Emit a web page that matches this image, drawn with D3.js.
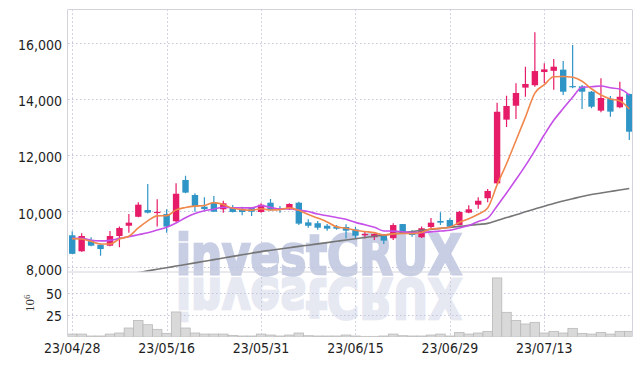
<!DOCTYPE html>
<html>
<head>
<meta charset="utf-8">
<script src="https://cdnjs.cloudflare.com/ajax/libs/d3/7.8.5/d3.min.js"></script>
<style>
  body { margin: 0; background: #fff; }
  svg { display: block; }
  .axis text { font-family: "Liberation Sans Narrow", "DejaVu Sans Condensed", sans-serif; font-size: 14px; fill: #1e1e1e; }
</style>
</head>
<body>
<div id="chart"></div>
<script>
// trading days shown on the chart
const dates = [
  "23/04/28","23/05/02","23/05/03","23/05/04","23/05/08","23/05/09","23/05/10","23/05/11","23/05/12","23/05/15",
  "23/05/16","23/05/17","23/05/18","23/05/19","23/05/22","23/05/23","23/05/24","23/05/25","23/05/26","23/05/30",
  "23/05/31","23/06/01","23/06/02","23/06/05","23/06/07","23/06/08","23/06/09","23/06/12","23/06/13","23/06/14",
  "23/06/15","23/06/16","23/06/19","23/06/20","23/06/21","23/06/22","23/06/23","23/06/26","23/06/27","23/06/28",
  "23/06/29","23/06/30","23/07/03","23/07/04","23/07/05","23/07/06","23/07/07","23/07/10","23/07/11","23/07/12",
  "23/07/13","23/07/14","23/07/17","23/07/18","23/07/19","23/07/20","23/07/21","23/07/24","23/07/25","23/07/26"
];
const tickDates = ["23/04/28","23/05/16","23/05/31","23/06/15","23/06/29","23/07/13"];
const priceTicks = [8000, 10000, 12000, 14000, 16000];
const volumeTicks = [25, 50];

const open = [
  9140, 8570, 8970, 8800, 8770, 9115, 9480, 9800, 10040, 9950,
  9900, 9640, 11110, 10575, 10160, 10300, 10065, 10135, 10065, 10110,
  9970, 10300, 10100, 10066, 10300, 9600, 9570, 9480, 9445, 9435,
  9350, 9150, 9070, 9150, 9035, 9540, 9290, 9070, 9435, 9650,
  9685, 9505, 9945, 10230, 10460, 10990, 13260, 13755, 14400, 14485,
  14955, 15000, 15040, 14455, 14445, 14255, 13580, 14005, 13700, 14175
];
const high = [
  9280, 9210, 9070, 8830, 9290, 9450, 9900, 10315, 10970, 10420,
  10065, 10990, 11260, 10635, 10495, 10540, 10370, 10220, 10160, 10150,
  10280, 10430, 10185, 10280, 10335, 9710, 9650, 9540, 9505, 9530,
  9435, 9270, 9200, 9185, 9565, 9545, 9330, 9450, 9755, 9960,
  9745, 10005, 10210, 10495, 10790, 13865, 14110, 14555, 15145, 16370,
  15265, 15420, 15350, 15920, 14495, 14280, 14730, 14100, 14610, 14180
];
const low = [
  8470, 8550, 8750, 8410, 8750, 8710, 9230, 9780, 9920, 9450,
  9230, 9610, 10635, 9980, 10040, 9975, 9945, 9950, 9850, 9830,
  9945, 10005, 9945, 10040, 9505, 9410, 9340, 9305, 9340, 9030,
  9030, 9030, 8970, 8830, 8970, 9190, 9090, 9040, 9400, 9505,
  9440, 9500, 9925, 10085, 10315, 10980, 13000, 13285, 14075, 14435,
  14555, 14320, 14135, 14375, 13640, 13665, 13520, 13365, 13665, 12535
];
const close = [
  8480, 9115, 8770, 8650, 9115, 9400, 9590, 10230, 9945, 9975,
  9450, 10620, 10660, 10185, 10075, 9980, 10280, 9970, 9970, 9980,
  10230, 10040, 10065, 10255, 9555, 9480, 9410, 9375, 9375, 9305,
  9125, 9185, 9185, 8950, 9505, 9210, 9150, 9390, 9590, 9590,
  9445, 9970, 10065, 10370, 10720, 13540, 13745, 14210, 14530, 14990,
  15050, 15145, 14255, 14420, 14255, 13720, 14030, 13545, 14075, 12830
];
// volume in millions of shares
const volume = [
  3.0, 3.0, 0.8, 0.8, 3.0, 4.2, 9.9, 18.6, 13.7, 8.4,
  3.8, 28.2, 9.9, 4.2, 3.0, 3.0, 3.0, 1.5, 0.8, 0.8,
  3.0, 1.9, 0.8, 1.9, 4.2, 1.1, 0.8, 0.8, 0.8, 1.9,
  0.8, 0.4, 0.4, 0.8, 3.0, 1.1, 0.8, 0.8, 1.9, 3.0,
  0.8, 4.9, 3.0, 4.2, 6.1, 67.0, 27.8, 18.6, 14.5, 16.4,
  4.2, 6.1, 4.2, 9.5, 3.8, 3.0, 4.9, 3.0, 6.1, 6.1
];
const ma5 = [
  9020, 9010, 8925, 8830, 8830, 9010, 9105, 9400, 9655, 9830,
  9840, 10045, 10130, 10180, 10200, 10305, 10235, 10100, 10055, 10035,
  10085, 10040, 10055, 10115, 10030, 9880, 9755, 9615, 9440, 9390,
  9320, 9275, 9235, 9150, 9190, 9205, 9200, 9240, 9370, 9385,
  9435, 9595, 9730, 9890, 10115, 10935, 11690, 12515, 13350, 14205,
  14505, 14785, 14795, 14770, 14625, 14360, 14135, 13995, 13925, 13640
];
const ma10 = [
  9030, 9035, 8965, 8940, 8960, 9030, 9090, 9160, 9230, 9325,
  9425, 9575, 9765, 9915, 10015, 10070, 10140, 10115, 10115, 10115,
  10195, 10135, 10080, 10085, 10035, 9985, 9895, 9835, 9775, 9710,
  9600, 9515, 9425, 9295, 9290, 9265, 9235, 9240, 9260, 9290,
  9320, 9400, 9485, 9630, 9750, 10185, 10645, 11125, 11620, 12160,
  12720, 13235, 13655, 14060, 14415, 14430, 14460, 14395, 14350, 14135
];
const ma60 = [
  7416, 7473, 7530, 7587, 7644, 7701, 7758, 7815, 7872, 7929,
  7986, 8043, 8100, 8157, 8214, 8274, 8331, 8388, 8445, 8502,
  8559, 8606, 8652, 8698, 8745, 8787, 8834, 8880, 8926, 8972,
  9019, 9061, 9104, 9147, 9190, 9232, 9275, 9314, 9350, 9386,
  9421, 9457, 9492, 9528, 9564, 9667, 9770, 9870, 9977, 10080,
  10176, 10276, 10358, 10440, 10525, 10593, 10647, 10700, 10753, 10807
];

const width = 642, height = 366;
const left = 68, right = 632;
const priceTop = 9.3, priceBottom = 271.7;
const volTop = 272, volBottom = 336.7;
const upColor = "#e61c68", downColor = "#2f95c6";

const svg = d3.select("#chart").append("svg")
  .attr("width", width)
  .attr("height", height);

const x = d3.scaleBand().domain(dates).range([67.5, 634]);
const cx = d => x(d) + x.bandwidth() / 2;
const y = d3.scaleLinear().domain([7843, 17190]).range([priceBottom, priceTop]);
const yv = d3.scaleLinear().domain([0, 73.8]).range([volBottom, volTop]);

const defs = svg.append("defs");
defs.append("clipPath").attr("id", "clipPrice")
  .append("rect").attr("x", left).attr("y", priceTop).attr("width", right - left).attr("height", priceBottom - priceTop);
defs.append("clipPath").attr("id", "clipVol")
  .append("rect").attr("x", left).attr("y", volTop).attr("width", right - left).attr("height", volBottom - volTop);

// watermark with a faint mirrored copy underneath
const wmFont = "'DejaVu Sans', 'Liberation Sans', sans-serif";
svg.append("text")
  .attr("x", 176).attr("y", -279)
  .attr("transform", "scale(1,-1)")
  .attr("textLength", 286).attr("lengthAdjust", "spacingAndGlyphs")
  .style("font-family", wmFont)
  .style("font-weight", "bold").style("font-size", "55px")
  .style("fill", "#e6e8f2").style("stroke", "#e6e8f2").style("stroke-width", 2.5)
  .text("investCRUX");
svg.append("text")
  .attr("x", 176).attr("y", 274)
  .attr("textLength", 286).attr("lengthAdjust", "spacingAndGlyphs")
  .style("font-family", wmFont)
  .style("font-weight", "bold").style("font-size", "55px")
  .style("fill", "#c8cee4").style("stroke", "#c8cee4").style("stroke-width", 2.5)
  .text("investCRUX");

// dotted grid
const grid = svg.append("g")
  .attr("stroke", "#c3c6da").attr("stroke-width", 1).attr("stroke-dasharray", "1.5,2.5");
grid.selectAll(".hp").data(priceTicks).enter().append("line")
  .attr("x1", left).attr("x2", right)
  .attr("y1", d => Math.round(y(d)) + 0.5).attr("y2", d => Math.round(y(d)) + 0.5);
grid.selectAll(".hv").data(volumeTicks).enter().append("line")
  .attr("x1", left).attr("x2", right)
  .attr("y1", d => Math.round(yv(d)) + 0.5).attr("y2", d => Math.round(yv(d)) + 0.5);
grid.selectAll(".v").data(tickDates).enter().append("line")
  .attr("x1", d => Math.round(cx(d)) + 0.5).attr("x2", d => Math.round(cx(d)) + 0.5)
  .attr("y1", priceTop).attr("y2", volBottom);

// volume bars
svg.append("g").attr("clip-path", "url(#clipVol)")
  .selectAll("rect").data(dates).enter().append("rect")
  .attr("x", d => x(d))
  .attr("y", (d, i) => yv(volume[i]))
  .attr("width", x.bandwidth())
  .attr("height", (d, i) => volBottom - yv(volume[i]))
  .attr("fill", "#d9d9d9")
  .attr("stroke", "#b9b9b9")
  .attr("stroke-width", 0.8);

// candles
const candles = svg.append("g").attr("clip-path", "url(#clipPrice)");
const col = i => close[i] >= open[i] ? upColor : downColor;
candles.selectAll("line").data(dates).enter().append("line")
  .attr("x1", d => cx(d)).attr("x2", d => cx(d))
  .attr("y1", (d, i) => y(high[i])).attr("y2", (d, i) => y(low[i]))
  .attr("stroke", (d, i) => col(i)).attr("stroke-width", 1.2);
const bodyW = 6.4;
candles.selectAll("rect").data(dates).enter().append("rect")
  .attr("x", d => cx(d) - bodyW / 2)
  .attr("y", (d, i) => y(Math.max(open[i], close[i])))
  .attr("width", bodyW)
  .attr("height", (d, i) => Math.max(1.2, y(Math.min(open[i], close[i])) - y(Math.max(open[i], close[i]))))
  .attr("fill", (d, i) => col(i));

// moving averages
const lines = svg.append("g").attr("clip-path", "url(#clipPrice)");
const makeLine = vals => d3.line()
  .x((d, i) => cx(dates[i]))
  .y(d => y(d))
  .curve(d3.curveMonotoneX)(vals);
lines.append("path").attr("d", makeLine(ma60))
  .attr("fill", "none").attr("stroke", "#767676").attr("stroke-width", 1.6);
lines.append("path").attr("d", makeLine(ma10))
  .attr("fill", "none").attr("stroke", "#c64fe8").attr("stroke-width", 1.6);
lines.append("path").attr("d", makeLine(ma5))
  .attr("fill", "none").attr("stroke", "#f0874c").attr("stroke-width", 1.6);

// panel borders
const border = svg.append("g").attr("stroke", "#d2d3dc").attr("stroke-width", 1).attr("fill", "none");
border.append("line").attr("x1", left).attr("x2", right).attr("y1", 9.5).attr("y2", 9.5);
border.append("line").attr("x1", left).attr("x2", right).attr("y1", 272).attr("y2", 272);
border.append("line").attr("x1", left - 0.5).attr("x2", left - 0.5).attr("y1", 9.5).attr("y2", volBottom);
border.append("line").attr("x1", right + 0.5).attr("x2", right + 0.5).attr("y1", 9.5).attr("y2", volBottom);

// axes
svg.append("g").attr("class", "axis")
  .attr("transform", "translate(" + left + ",0)")
  .call(d3.axisLeft(y).tickValues(priceTicks).tickSize(0).tickPadding(6).tickFormat(d3.format(",")))
  .call(g => g.select(".domain").remove())
  .selectAll("text").attr("dy", "0.5em");

svg.append("g").attr("class", "axis")
  .attr("transform", "translate(" + left + ",0)")
  .call(d3.axisLeft(yv).tickValues(volumeTicks).tickSize(0).tickPadding(6))
  .call(g => g.select(".domain").remove())
  .selectAll("text").attr("dy", "0.4em");

svg.append("g").attr("class", "axis")
  .attr("transform", "translate(0," + volBottom + ")")
  .call(d3.axisBottom(x).tickValues(tickDates).tickSize(0).tickPadding(6.5))
  .call(g => g.select(".domain").remove());

// volume unit 10^6
const unit = svg.append("text")
  .attr("transform", "translate(34,312) rotate(-90)")
  .style("font-family", "Liberation Serif, serif")
  .style("font-size", "13px")
  .style("fill", "#333");
unit.append("tspan").text("10");
unit.append("tspan").attr("dy", "-0.45em").style("font-size", "9px").text("6");
</script>
</body>
</html>
